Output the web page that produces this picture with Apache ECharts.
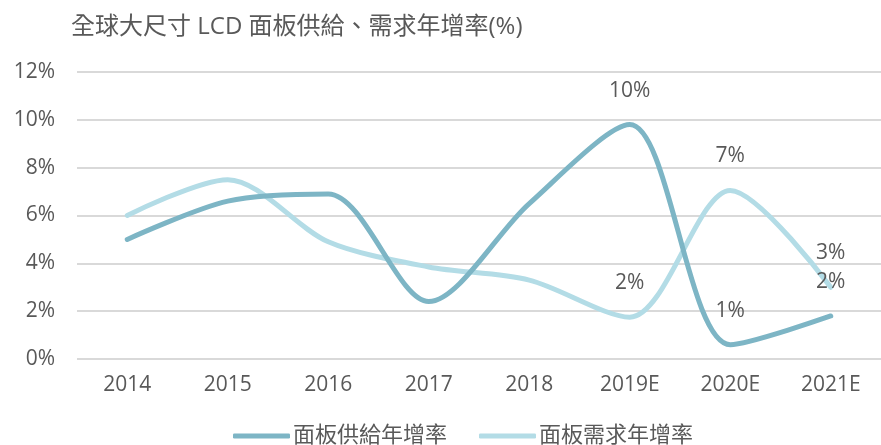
<!DOCTYPE html>
<html>
<head>
<meta charset="utf-8">
<script src="https://cdn.jsdelivr.net/npm/echarts@6/dist/echarts.min.js"></script>
<style>
html,body{margin:0;padding:0;background:#fff;}
#c{width:881px;height:445px;}
</style>
</head>
<body>
<div id="c"></div>
<script>
const titleText = '全球大尺寸 LCD 面板供給、需求年增率(%)';
const categories = ['2014','2015','2016','2017','2018','2019E','2020E','2021E'];
const supplyName = '面板供給年增率';
const demandName = '面板需求年增率';
const supplyValues = [5.0, 6.6, 6.9, 2.4, 6.5, 9.8, 0.6, 1.8];
const demandValues = [6.0, 7.5, 4.9, 3.85, 3.3, 1.75, 7.05, 3.0];
const labelFromIndex = 5;
const yTicks = [0, 2, 4, 6, 8, 10, 12];

const FONT = '"Open Sans", "Noto Sans CJK TC", sans-serif';
const TEXT = '#595959';

function toData(vals){
  return vals.map((v,i)=>({value:v, label:{show: i>=labelFromIndex}}));
}

const chart = echarts.init(document.getElementById('c'));
chart.setOption({
  animation:false,
  backgroundColor:'#fff',
  title:{
    text:titleText, left:66, top:10,
    textStyle:{fontFamily:FONT, fontSize:24, fontWeight:'normal', color:TEXT}
  },
  legend:{
    bottom:-7, left:228,
    itemWidth:57, itemHeight:5, itemGap:32, icon:'roundRect',
    textStyle:{fontFamily:FONT, fontSize:22, color:TEXT, padding:[0,0,0,-2]},
    data:[supplyName, demandName]
  },
  grid:{left:77, right:-12, top:72, bottom:86},
  xAxis:{
    type:'category', data:categories, boundaryGap:true,
    axisLine:{show:false}, axisTick:{show:false},
    axisLabel:{fontFamily:FONT, fontSize:21, color:TEXT, margin:16}
  },
  yAxis:{
    type:'value', min:yTicks[0], max:yTicks[yTicks.length-1], interval:2,
    axisLine:{show:false}, axisTick:{show:false},
    axisLabel:{fontFamily:FONT, fontSize:21, color:TEXT, margin:22, formatter:v=>v+'%'},
    splitLine:{lineStyle:{color:'#D9D9D9', width:2}}
  },
  series:[
    {
      name:supplyName, type:'line', smooth:0.3, smoothMonotone:'none', data:toData(supplyValues),
      symbol:'circle', symbolSize:1, showSymbol:true,
      lineStyle:{color:'#7DB5C5', width:5, cap:'round'},
      itemStyle:{color:'#7DB5C5'},
      label:{position:'top', distance:23, fontFamily:FONT, fontSize:21, color:TEXT,
        formatter:p=>Math.round(p.value)+'%'},
      z:3
    },
    {
      name:demandName, type:'line', smooth:0.3, smoothMonotone:'none', data:toData(demandValues),
      symbol:'circle', symbolSize:1, showSymbol:true,
      lineStyle:{color:'#B3DCE6', width:5, cap:'round'},
      itemStyle:{color:'#B3DCE6'},
      label:{position:'top', distance:23, fontFamily:FONT, fontSize:21, color:TEXT,
        formatter:p=>Math.round(p.value)+'%'},
      z:2
    }
  ]
});
</script>
</body>
</html>
